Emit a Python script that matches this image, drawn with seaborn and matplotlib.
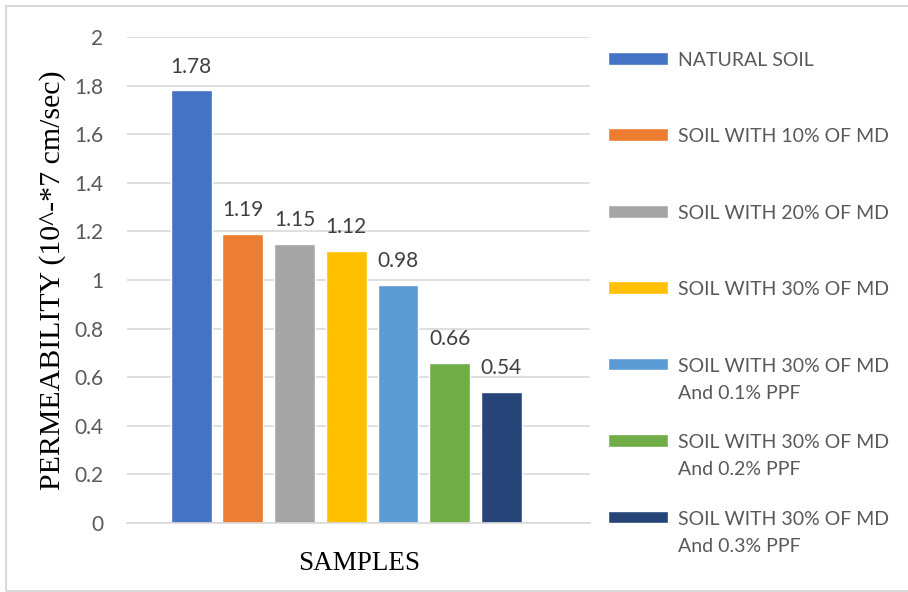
import matplotlib
matplotlib.use("Agg")
import matplotlib.pyplot as plt
import seaborn as sns
from matplotlib.patches import Rectangle

# dados
amostras = [
    "NATURAL SOIL",
    "SOIL WITH 10% OF MD",
    "SOIL WITH 20% OF MD",
    "SOIL WITH 30% OF MD",
    "SOIL WITH 30% OF MD\nAnd 0.1% PPF",
    "SOIL WITH 30% OF MD\nAnd 0.2% PPF",
    "SOIL WITH 30% OF MD\nAnd 0.3% PPF",
]
permeabilidade = [1.78, 1.19, 1.15, 1.12, 0.98, 0.66, 0.54]
cores = ["#4472C4", "#ED7D31", "#A5A5A5", "#FFC000", "#5B9BD5", "#70AD47", "#264478"]
yticks = [0, 0.2, 0.4, 0.6, 0.8, 1, 1.2, 1.4, 1.6, 1.8, 2]

sns.set_style("white")
plt.rcParams["font.family"] = ["Lato", "DejaVu Sans"]

fig = plt.figure(figsize=(9.08, 5.92), dpi=100)
ax = fig.add_axes([0.140, 0.1166, 0.510, 0.821])

sns.barplot(x=amostras, y=permeabilidade, hue=amostras, palette=cores,
            width=0.79, dodge=False, saturation=1, ax=ax, legend=True)

# rotulos em cima das barras
for c in ax.containers:
    ax.bar_label(c, fmt="%g", padding=10, fontsize=15, color="#404040")

ax.set_ylim(0, 2)
ax.set_xlim(-1.24, 7.72)
ax.set_yticks(yticks)
ax.set_yticklabels([f"{v:g}" for v in yticks])
ax.set_xticks([])
ax.tick_params(axis="y", length=0, labelsize=15, labelcolor="#595959", pad=17)
ax.yaxis.grid(True, color="#D9D9D9", linewidth=1.2)
ax.set_axisbelow(True)
for s in ["top", "right", "left"]:
    ax.spines[s].set_visible(False)
ax.spines["bottom"].set_color("#D9D9D9")
ax.spines["bottom"].set_linewidth(1.2)

ax.set_ylabel("PERMEABILITY (10^-*7 cm/sec)", family="Liberation Serif",
              fontsize=21.5, color="black", labelpad=6)
ax.set_xlabel("SAMPLES", family="Liberation Serif", fontsize=19.5,
              color="black", labelpad=20)

# legenda: todos os itens com duas linhas para ficar com o mesmo espacamento
handles, labels = ax.get_legend_handles_labels()
labels = [l if "\n" in l else l + "\n " for l in labels]
ax.get_legend().remove()
leg = fig.legend(handles, labels, loc="upper left",
                 bbox_to_anchor=(0.6696, 1 - 52 / 592), frameon=False,
                 fontsize=14, handlelength=3.1, handleheight=0.62,
                 handletextpad=0.5, labelspacing=1.68, borderpad=0,
                 borderaxespad=0)
for t in leg.get_texts():
    t.set_color("#595959")
    t.set_linespacing(1.7)
for col in leg._legend_handle_box.get_children():
    for item in col.get_children():
        item.align = "top"

# moldura cinza em volta da figura
fig.patches.append(Rectangle((6 / 908, 1 / 592), 1.2, 1 - 7 / 592,
                             transform=fig.transFigure, fill=False,
                             edgecolor="#D9D9D9", linewidth=1.5))

fig.savefig("out.png", dpi=100)
